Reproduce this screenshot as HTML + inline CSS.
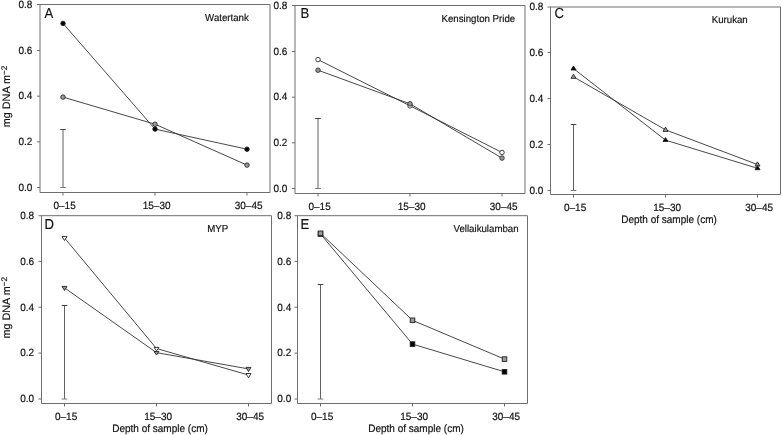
<!DOCTYPE html>
<html><head><meta charset="utf-8"><title>mg DNA m-2 by depth</title>
<style>
html,body{margin:0;padding:0;background:#fff;}
body{width:782px;height:435px;overflow:hidden;}
svg{display:block;filter:grayscale(1);font-family:"Liberation Sans",sans-serif;text-rendering:geometricPrecision;}
text{fill:#111;stroke:#111;stroke-width:0.18px;}
</style></head>
<body>
<svg width="782" height="435" viewBox="0 0 782 435">
<rect width="782" height="435" fill="#fff"/>
<path d="M40,4.5 H270 V192.5 H40 Z" fill="none" stroke="#6e6e6e" stroke-width="1"/>
<line x1="37" y1="187.5" x2="40" y2="187.5" stroke="#6e6e6e" stroke-width="1"/>
<text transform="translate(32.4,190.8) scale(1,1.05)" text-anchor="end" font-size="10">0.0</text>
<line x1="37" y1="141.83" x2="40" y2="141.83" stroke="#6e6e6e" stroke-width="1"/>
<text transform="translate(32.4,145.13) scale(1,1.05)" text-anchor="end" font-size="10">0.2</text>
<line x1="37" y1="96.16" x2="40" y2="96.16" stroke="#6e6e6e" stroke-width="1"/>
<text transform="translate(32.4,99.46) scale(1,1.05)" text-anchor="end" font-size="10">0.4</text>
<line x1="37" y1="50.50" x2="40" y2="50.50" stroke="#6e6e6e" stroke-width="1"/>
<text transform="translate(32.4,53.80) scale(1,1.05)" text-anchor="end" font-size="10">0.6</text>
<line x1="37" y1="4.5" x2="40" y2="4.5" stroke="#6e6e6e" stroke-width="1"/>
<text transform="translate(32.4,7.8) scale(1,1.05)" text-anchor="end" font-size="10">0.8</text>
<line x1="63" y1="192.5" x2="63" y2="195.5" stroke="#6e6e6e" stroke-width="1"/>
<text transform="translate(64.6,209.1) scale(1,1.05)" text-anchor="middle" font-size="10">0–15</text>
<line x1="155" y1="192.5" x2="155" y2="195.5" stroke="#6e6e6e" stroke-width="1"/>
<text transform="translate(156.6,209.1) scale(1,1.05)" text-anchor="middle" font-size="10">15–30</text>
<line x1="247" y1="192.5" x2="247" y2="195.5" stroke="#6e6e6e" stroke-width="1"/>
<text transform="translate(248.6,209.1) scale(1,1.05)" text-anchor="middle" font-size="10">30–45</text>
<text transform="translate(44.5,17.6) scale(0.97,1.07)" font-size="13.5">A</text>
<text transform="translate(205.1,20.5) scale(0.95,1)" font-size="10.2">Watertank</text>
<text transform="translate(9.7,127.2) rotate(-90)" font-size="10.8">mg DNA m<tspan font-size="8.2" dy="-2.6">−2</tspan></text>
<line x1="63" y1="129.5" x2="63" y2="187.5" stroke="#606060" stroke-width="1"/>
<line x1="60.2" y1="129.5" x2="65.8" y2="129.5" stroke="#444" stroke-width="1"/>
<line x1="60.2" y1="187.5" x2="65.8" y2="187.5" stroke="#777" stroke-width="1"/>
<polyline points="63,97.1 155,124.2 247,165.1" fill="none" stroke="#333" stroke-width="0.9"/>
<polyline points="63,23.4 155,129.1 247,149.2" fill="none" stroke="#333" stroke-width="0.9"/>
<circle cx="63" cy="97.1" r="2.25" fill="#9a9a9a" stroke="#222" stroke-width="0.85"/>
<circle cx="155" cy="124.2" r="2.25" fill="#9a9a9a" stroke="#222" stroke-width="0.85"/>
<circle cx="247" cy="165.1" r="2.25" fill="#9a9a9a" stroke="#222" stroke-width="0.85"/>
<circle cx="63" cy="23.4" r="2.25" fill="#000" stroke="#222" stroke-width="0.85"/>
<circle cx="155" cy="129.1" r="2.25" fill="#000" stroke="#222" stroke-width="0.85"/>
<circle cx="247" cy="149.2" r="2.25" fill="#000" stroke="#222" stroke-width="0.85"/>
<path d="M295,5.5 H525 V193.5 H295 Z" fill="none" stroke="#6e6e6e" stroke-width="1"/>
<line x1="292" y1="188.5" x2="295" y2="188.5" stroke="#6e6e6e" stroke-width="1"/>
<text transform="translate(287.4,191.8) scale(1,1.05)" text-anchor="end" font-size="10">0.0</text>
<line x1="292" y1="142.83" x2="295" y2="142.83" stroke="#6e6e6e" stroke-width="1"/>
<text transform="translate(287.4,146.13) scale(1,1.05)" text-anchor="end" font-size="10">0.2</text>
<line x1="292" y1="97.16" x2="295" y2="97.16" stroke="#6e6e6e" stroke-width="1"/>
<text transform="translate(287.4,100.46) scale(1,1.05)" text-anchor="end" font-size="10">0.4</text>
<line x1="292" y1="51.50" x2="295" y2="51.50" stroke="#6e6e6e" stroke-width="1"/>
<text transform="translate(287.4,54.80) scale(1,1.05)" text-anchor="end" font-size="10">0.6</text>
<line x1="292" y1="5.5" x2="295" y2="5.5" stroke="#6e6e6e" stroke-width="1"/>
<text transform="translate(287.4,8.8) scale(1,1.05)" text-anchor="end" font-size="10">0.8</text>
<line x1="318" y1="193.5" x2="318" y2="196.5" stroke="#6e6e6e" stroke-width="1"/>
<text transform="translate(319.6,210.1) scale(1,1.05)" text-anchor="middle" font-size="10">0–15</text>
<line x1="410" y1="193.5" x2="410" y2="196.5" stroke="#6e6e6e" stroke-width="1"/>
<text transform="translate(411.6,210.1) scale(1,1.05)" text-anchor="middle" font-size="10">15–30</text>
<line x1="502" y1="193.5" x2="502" y2="196.5" stroke="#6e6e6e" stroke-width="1"/>
<text transform="translate(503.6,210.1) scale(1,1.05)" text-anchor="middle" font-size="10">30–45</text>
<text transform="translate(300.5,17.6) scale(0.97,1.07)" font-size="13.5">B</text>
<text transform="translate(441.5,21.9) scale(0.95,1)" font-size="10.2">Kensington Pride</text>
<line x1="318" y1="118.5" x2="318" y2="188.5" stroke="#606060" stroke-width="1"/>
<line x1="315.2" y1="118.5" x2="320.8" y2="118.5" stroke="#444" stroke-width="1"/>
<line x1="315.2" y1="188.5" x2="320.8" y2="188.5" stroke="#777" stroke-width="1"/>
<polyline points="318,59.6 410,105.8 502,152.5" fill="none" stroke="#333" stroke-width="0.9"/>
<polyline points="318,70.2 410,103.8 502,158.1" fill="none" stroke="#333" stroke-width="0.9"/>
<circle cx="318" cy="59.6" r="2.25" fill="#fff" stroke="#222" stroke-width="0.85"/>
<circle cx="410" cy="105.8" r="2.25" fill="#fff" stroke="#222" stroke-width="0.85"/>
<circle cx="502" cy="152.5" r="2.25" fill="#fff" stroke="#222" stroke-width="0.85"/>
<circle cx="318" cy="70.2" r="2.25" fill="#9a9a9a" stroke="#222" stroke-width="0.85"/>
<circle cx="410" cy="103.8" r="2.25" fill="#9a9a9a" stroke="#222" stroke-width="0.85"/>
<circle cx="502" cy="158.1" r="2.25" fill="#9a9a9a" stroke="#222" stroke-width="0.85"/>
<path d="M550.5,7 H780.5 V194.5 H550.5 Z" fill="none" stroke="#6e6e6e" stroke-width="1"/>
<line x1="547.5" y1="190.5" x2="550.5" y2="190.5" stroke="#6e6e6e" stroke-width="1"/>
<text transform="translate(543.3,193.8) scale(1,1.05)" text-anchor="end" font-size="10">0.0</text>
<line x1="547.5" y1="144.5" x2="550.5" y2="144.5" stroke="#6e6e6e" stroke-width="1"/>
<text transform="translate(543.3,147.8) scale(1,1.05)" text-anchor="end" font-size="10">0.2</text>
<line x1="547.5" y1="98.5" x2="550.5" y2="98.5" stroke="#6e6e6e" stroke-width="1"/>
<text transform="translate(543.3,101.8) scale(1,1.05)" text-anchor="end" font-size="10">0.4</text>
<line x1="547.5" y1="52.49" x2="550.5" y2="52.49" stroke="#6e6e6e" stroke-width="1"/>
<text transform="translate(543.3,55.79) scale(1,1.05)" text-anchor="end" font-size="10">0.6</text>
<line x1="547.5" y1="7" x2="550.5" y2="7" stroke="#6e6e6e" stroke-width="1"/>
<text transform="translate(543.3,10.3) scale(1,1.05)" text-anchor="end" font-size="10">0.8</text>
<line x1="573.5" y1="194.5" x2="573.5" y2="197.5" stroke="#6e6e6e" stroke-width="1"/>
<text transform="translate(575.1,211.1) scale(1,1.05)" text-anchor="middle" font-size="10">0–15</text>
<line x1="665.5" y1="194.5" x2="665.5" y2="197.5" stroke="#6e6e6e" stroke-width="1"/>
<text transform="translate(667.1,211.1) scale(1,1.05)" text-anchor="middle" font-size="10">15–30</text>
<line x1="757.5" y1="194.5" x2="757.5" y2="197.5" stroke="#6e6e6e" stroke-width="1"/>
<text transform="translate(759.1,211.1) scale(1,1.05)" text-anchor="middle" font-size="10">30–45</text>
<text transform="translate(554.4,17.6) scale(0.97,1.07)" font-size="13.5">C</text>
<text transform="translate(711.7,22.8) scale(0.95,1)" font-size="10.2">Kurukan</text>
<text transform="translate(669.0,223.2) scale(1,1.08)" text-anchor="middle" font-size="10">Depth of sample (cm)</text>
<line x1="573.5" y1="124.5" x2="573.5" y2="190.5" stroke="#606060" stroke-width="1"/>
<line x1="570.7" y1="124.5" x2="576.3" y2="124.5" stroke="#444" stroke-width="1"/>
<line x1="570.7" y1="190.5" x2="576.3" y2="190.5" stroke="#777" stroke-width="1"/>
<polyline points="573.5,76.85 665.5,129.85 757.5,164.54" fill="none" stroke="#333" stroke-width="0.9"/>
<polyline points="573.5,68.6 665.5,140.15 757.5,168.29" fill="none" stroke="#333" stroke-width="0.9"/>
<path d="M573.5,74.2 L576.0,78.3 L571.0,78.3 Z" fill="#9a9a9a" stroke="#222" stroke-width="0.9" stroke-linejoin="miter"/>
<path d="M665.5,127.1 L668.0,131.4 L663.0,131.4 Z" fill="#9a9a9a" stroke="#222" stroke-width="0.9" stroke-linejoin="miter"/>
<path d="M757.5,161.9 L760.0,166.0 L755.0,166.0 Z" fill="#9a9a9a" stroke="#222" stroke-width="0.9" stroke-linejoin="miter"/>
<path d="M573.5,66.0 L576.0,70.0 L571.0,70.0 Z" fill="#000" stroke="#222" stroke-width="0.9" stroke-linejoin="miter"/>
<path d="M665.5,137.6 L668.0,141.5 L663.0,141.5 Z" fill="#000" stroke="#222" stroke-width="0.9" stroke-linejoin="miter"/>
<path d="M757.5,165.7 L760.0,169.7 L755.0,169.7 Z" fill="#000" stroke="#222" stroke-width="0.9" stroke-linejoin="miter"/>
<path d="M41.5,215.7 H271.5 V403.5 H41.5 Z" fill="none" stroke="#6e6e6e" stroke-width="1"/>
<line x1="38.5" y1="399.0" x2="41.5" y2="399.0" stroke="#6e6e6e" stroke-width="1"/>
<text transform="translate(34.1,402.3) scale(1,1.05)" text-anchor="end" font-size="10">0.0</text>
<line x1="38.5" y1="353.12" x2="41.5" y2="353.12" stroke="#6e6e6e" stroke-width="1"/>
<text transform="translate(34.1,356.42) scale(1,1.05)" text-anchor="end" font-size="10">0.2</text>
<line x1="38.5" y1="307.24" x2="41.5" y2="307.24" stroke="#6e6e6e" stroke-width="1"/>
<text transform="translate(34.1,310.54) scale(1,1.05)" text-anchor="end" font-size="10">0.4</text>
<line x1="38.5" y1="261.36" x2="41.5" y2="261.36" stroke="#6e6e6e" stroke-width="1"/>
<text transform="translate(34.1,264.66) scale(1,1.05)" text-anchor="end" font-size="10">0.6</text>
<line x1="38.5" y1="215.7" x2="41.5" y2="215.7" stroke="#6e6e6e" stroke-width="1"/>
<text transform="translate(34.1,219.0) scale(1,1.05)" text-anchor="end" font-size="10">0.8</text>
<line x1="64.5" y1="403.5" x2="64.5" y2="406.5" stroke="#6e6e6e" stroke-width="1"/>
<text transform="translate(66.1,420.1) scale(1,1.05)" text-anchor="middle" font-size="10">0–15</text>
<line x1="156.5" y1="403.5" x2="156.5" y2="406.5" stroke="#6e6e6e" stroke-width="1"/>
<text transform="translate(158.1,420.1) scale(1,1.05)" text-anchor="middle" font-size="10">15–30</text>
<line x1="248.5" y1="403.5" x2="248.5" y2="406.5" stroke="#6e6e6e" stroke-width="1"/>
<text transform="translate(250.1,420.1) scale(1,1.05)" text-anchor="middle" font-size="10">30–45</text>
<text transform="translate(44.4,228.5) scale(0.97,1.07)" font-size="13.5">D</text>
<text transform="translate(207.3,231.9) scale(0.95,1)" font-size="10.2">MYP</text>
<text transform="translate(160.0,432.2) scale(1,1.08)" text-anchor="middle" font-size="10">Depth of sample (cm)</text>
<text transform="translate(9.7,338.5) rotate(-90)" font-size="10.8">mg DNA m<tspan font-size="8.2" dy="-2.6">−2</tspan></text>
<line x1="64.5" y1="305.5" x2="64.5" y2="399" stroke="#606060" stroke-width="1"/>
<line x1="61.7" y1="305.5" x2="67.3" y2="305.5" stroke="#444" stroke-width="1"/>
<line x1="61.7" y1="399" x2="67.3" y2="399" stroke="#777" stroke-width="1"/>
<polyline points="64.5,237.95 156.5,348.5 248.5,375.04" fill="none" stroke="#333" stroke-width="0.9"/>
<polyline points="64.5,287.84 156.5,352.65 248.5,368.9" fill="none" stroke="#333" stroke-width="0.9"/>
<path d="M62.0,236.6 L67.0,236.6 L64.5,240.5 Z" fill="#fff" stroke="#222" stroke-width="0.9" stroke-linejoin="miter"/>
<path d="M154.0,347.4 L159.0,347.4 L156.5,350.8 Z" fill="#fff" stroke="#222" stroke-width="0.9" stroke-linejoin="miter"/>
<path d="M246.0,373.5 L251.0,373.5 L248.5,377.8 Z" fill="#fff" stroke="#222" stroke-width="0.9" stroke-linejoin="miter"/>
<path d="M62.0,286.4 L67.0,286.4 L64.5,290.5 Z" fill="#9a9a9a" stroke="#222" stroke-width="0.9" stroke-linejoin="miter"/>
<path d="M154.0,351.5 L159.0,351.5 L156.5,355.0 Z" fill="#9a9a9a" stroke="#222" stroke-width="0.9" stroke-linejoin="miter"/>
<path d="M246.0,367.4 L251.0,367.4 L248.5,371.6 Z" fill="#9a9a9a" stroke="#222" stroke-width="0.9" stroke-linejoin="miter"/>
<path d="M297.5,215.7 H527.5 V403.5 H297.5 Z" fill="none" stroke="#6e6e6e" stroke-width="1"/>
<line x1="294.5" y1="399.0" x2="297.5" y2="399.0" stroke="#6e6e6e" stroke-width="1"/>
<text transform="translate(291.2,402.3) scale(1,1.05)" text-anchor="end" font-size="10">0.0</text>
<line x1="294.5" y1="353.12" x2="297.5" y2="353.12" stroke="#6e6e6e" stroke-width="1"/>
<text transform="translate(291.2,356.42) scale(1,1.05)" text-anchor="end" font-size="10">0.2</text>
<line x1="294.5" y1="307.24" x2="297.5" y2="307.24" stroke="#6e6e6e" stroke-width="1"/>
<text transform="translate(291.2,310.54) scale(1,1.05)" text-anchor="end" font-size="10">0.4</text>
<line x1="294.5" y1="261.36" x2="297.5" y2="261.36" stroke="#6e6e6e" stroke-width="1"/>
<text transform="translate(291.2,264.66) scale(1,1.05)" text-anchor="end" font-size="10">0.6</text>
<line x1="294.5" y1="215.7" x2="297.5" y2="215.7" stroke="#6e6e6e" stroke-width="1"/>
<text transform="translate(291.2,219.0) scale(1,1.05)" text-anchor="end" font-size="10">0.8</text>
<line x1="320.5" y1="403.5" x2="320.5" y2="406.5" stroke="#6e6e6e" stroke-width="1"/>
<text transform="translate(322.1,420.1) scale(1,1.05)" text-anchor="middle" font-size="10">0–15</text>
<line x1="412.5" y1="403.5" x2="412.5" y2="406.5" stroke="#6e6e6e" stroke-width="1"/>
<text transform="translate(414.1,420.1) scale(1,1.05)" text-anchor="middle" font-size="10">15–30</text>
<line x1="504.5" y1="403.5" x2="504.5" y2="406.5" stroke="#6e6e6e" stroke-width="1"/>
<text transform="translate(506.1,420.1) scale(1,1.05)" text-anchor="middle" font-size="10">30–45</text>
<text transform="translate(300.4,228.5) scale(0.97,1.07)" font-size="13.5">E</text>
<text transform="translate(453.5,232.1) scale(0.95,1)" font-size="10.2">Vellaikulamban</text>
<text transform="translate(416.0,432.2) scale(1,1.08)" text-anchor="middle" font-size="10">Depth of sample (cm)</text>
<line x1="320.5" y1="284.5" x2="320.5" y2="399" stroke="#606060" stroke-width="1"/>
<line x1="317.7" y1="284.5" x2="323.3" y2="284.5" stroke="#444" stroke-width="1"/>
<line x1="317.7" y1="399" x2="323.3" y2="399" stroke="#777" stroke-width="1"/>
<polyline points="320.5,234.0 412.5,344.1 504.5,371.8" fill="none" stroke="#333" stroke-width="0.9"/>
<polyline points="320.5,233.3 412.5,320.3 504.5,359.1" fill="none" stroke="#333" stroke-width="0.9"/>
<rect x="318.2" y="231.7" width="4.6" height="4.6" fill="#000" stroke="#222" stroke-width="0.9"/>
<rect x="410.2" y="341.8" width="4.6" height="4.6" fill="#000" stroke="#222" stroke-width="0.9"/>
<rect x="502.2" y="369.5" width="4.6" height="4.6" fill="#000" stroke="#222" stroke-width="0.9"/>
<rect x="318.2" y="231.0" width="4.6" height="4.6" fill="#9a9a9a" stroke="#222" stroke-width="0.9"/>
<rect x="410.2" y="318.0" width="4.6" height="4.6" fill="#9a9a9a" stroke="#222" stroke-width="0.9"/>
<rect x="502.2" y="356.8" width="4.6" height="4.6" fill="#9a9a9a" stroke="#222" stroke-width="0.9"/>
</svg>
</body></html>
